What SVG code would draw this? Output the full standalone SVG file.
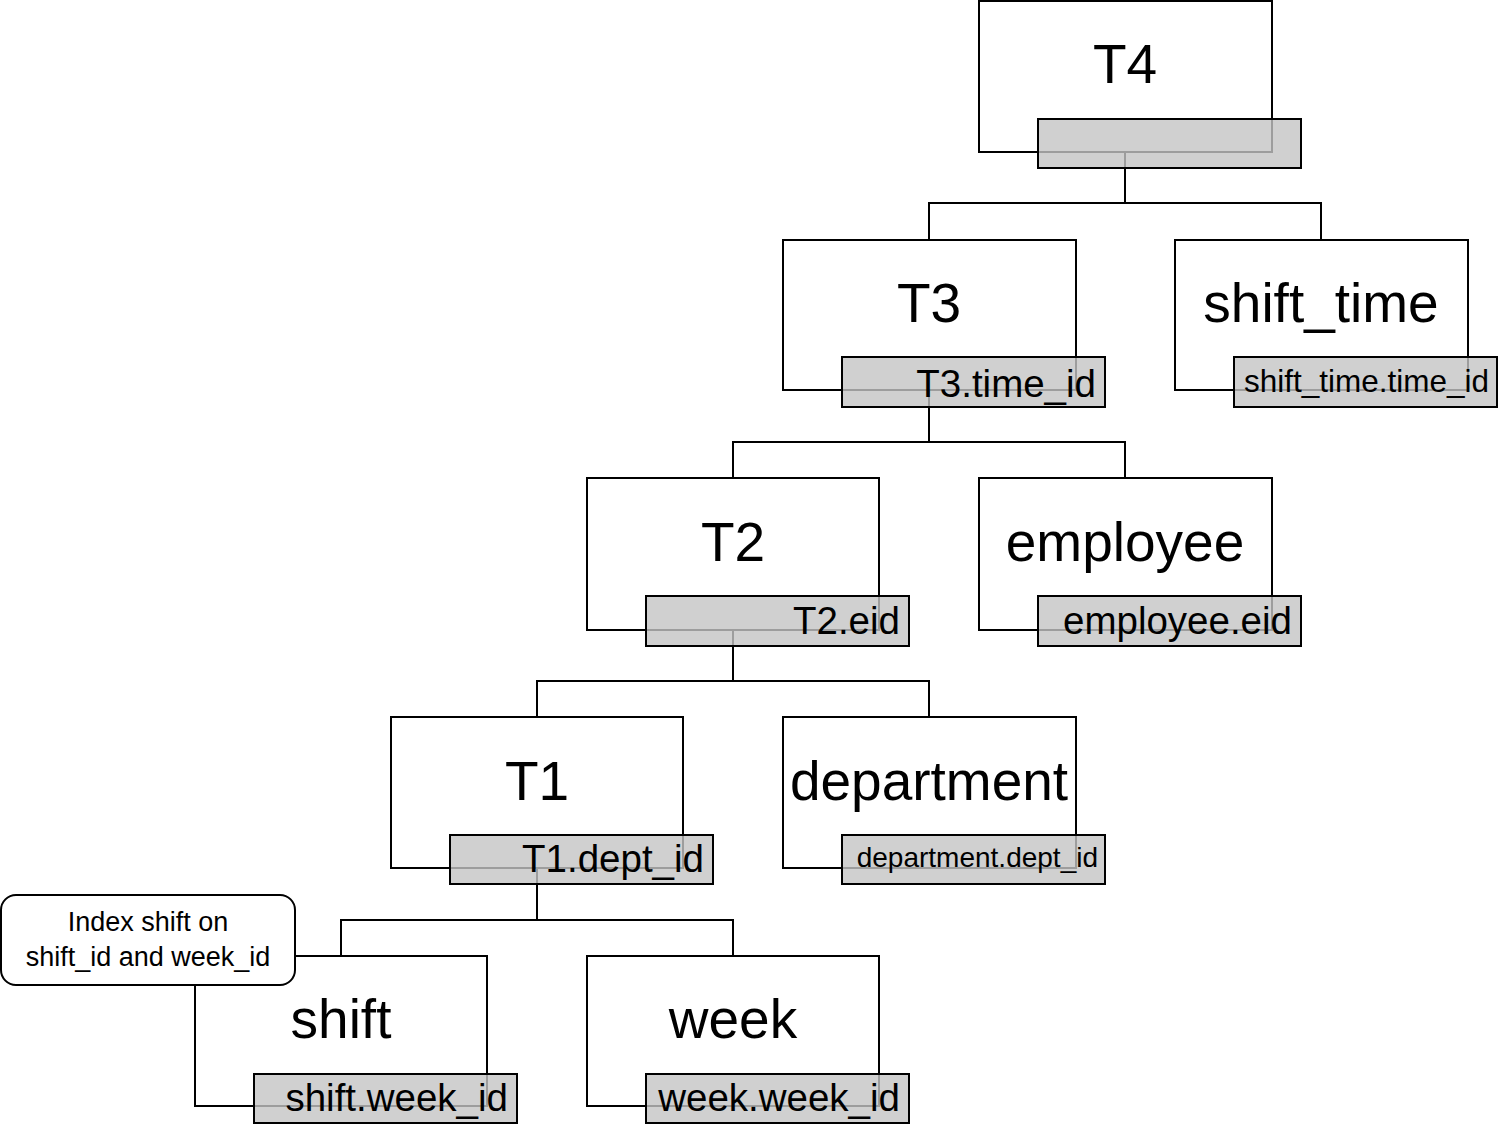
<svg xmlns="http://www.w3.org/2000/svg" width="1498" height="1125" viewBox="0 0 1498 1125">
<style>
.box{fill:#ffffff;stroke:#000000;stroke-width:2}
.key{fill:#c4c4c4;fill-opacity:0.8;stroke:#000000;stroke-width:2}
.title{font-family:"Liberation Sans",Arial,sans-serif;font-size:55px;fill:#000000;text-anchor:middle}
.lbl{font-family:"Liberation Sans",Arial,sans-serif;font-size:38.5px;fill:#000000;text-anchor:end}
.note{font-family:"Liberation Sans",Arial,sans-serif;font-size:27px;fill:#000000;text-anchor:middle}
.conn{fill:none;stroke:#000000;stroke-width:2}
</style>
<rect x="0" y="0" width="1498" height="1125" fill="#ffffff"/>
<g id="outer-boxes">
<rect class="box" x="979" y="1" width="293" height="151"/>
<rect class="box" x="783" y="240" width="293" height="150"/>
<rect class="box" x="1175" y="240" width="293" height="150"/>
<rect class="box" x="587" y="478" width="292" height="152"/>
<rect class="box" x="979" y="478" width="293" height="152"/>
<rect class="box" x="391" y="717" width="292" height="151"/>
<rect class="box" x="783" y="717" width="293" height="151"/>
<rect class="box" x="195" y="956" width="292" height="150"/>
<rect class="box" x="587" y="956" width="292" height="150"/>
</g>
<g id="connectors">
<path class="conn" d="M1125,152 V203 M929,240 V203 H1321 V240"/>
<path class="conn" d="M929,390 V442 M733,478 V442 H1125 V478"/>
<path class="conn" d="M733,630 V681 M537,717 V681 H929 V717"/>
<path class="conn" d="M537,868 V920 M341,956 V920 H733 V956"/>
</g>
<g id="T4">
<text class="title" x="1125" y="83">T4</text>
<rect class="key" x="1038" y="119" width="263" height="49"/>
</g>
<g id="T3">
<text class="title" x="929" y="322">T3</text>
<rect class="key" x="842" y="357" width="263" height="50"/>
<text class="lbl" x="1096" y="397">T3.time_id</text>
</g>
<g id="shift_time">
<text class="title" x="1321" y="322">shift_time</text>
<rect class="key" x="1234" y="357" width="263" height="50"/>
<text class="lbl" x="1489" y="392" style="font-size:31.5px">shift_time.time_id</text>
</g>
<g id="T2">
<text class="title" x="733" y="561">T2</text>
<rect class="key" x="646" y="596" width="263" height="50"/>
<text class="lbl" x="900" y="634">T2.eid</text>
</g>
<g id="employee">
<text class="title" x="1125" y="561">employee</text>
<rect class="key" x="1038" y="596" width="263" height="50"/>
<text class="lbl" x="1292" y="634">employee.eid</text>
</g>
<g id="T1">
<text class="title" x="537" y="800">T1</text>
<rect class="key" x="450" y="835" width="263" height="49"/>
<text class="lbl" x="704" y="872">T1.dept_id</text>
</g>
<g id="department">
<text class="title" x="929" y="800">department</text>
<rect class="key" x="842" y="835" width="263" height="49"/>
<text class="lbl" x="1098" y="867" style="font-size:28px">department.dept_id</text>
</g>
<g id="shift">
<text class="title" x="341" y="1038">shift</text>
<rect class="key" x="254" y="1074" width="263" height="49"/>
<text class="lbl" x="508" y="1111">shift.week_id</text>
</g>
<g id="week">
<text class="title" x="733" y="1038">week</text>
<rect class="key" x="646" y="1074" width="263" height="49"/>
<text class="lbl" x="900" y="1111">week.week_id</text>
</g>
<g id="note">
<rect class="box" x="1" y="895" width="294" height="90" rx="15" ry="15"/>
<text class="note" x="148" y="931">Index shift on</text>
<text class="note" x="148" y="966">shift_id and week_id</text>
</g>
</svg>
